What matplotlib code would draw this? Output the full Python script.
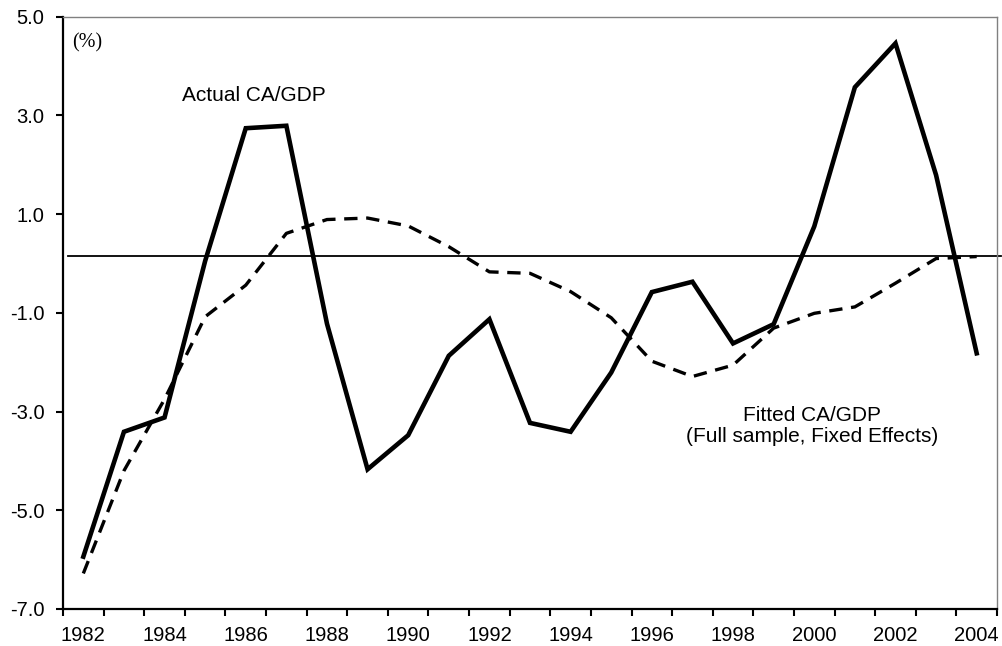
import matplotlib.pyplot as plt
from matplotlib.ticker import FixedLocator, NullFormatter
import numpy as np

plt.rcParams['font.family'] = ['Liberation Sans', 'DejaVu Sans']

# Current account balance, % of GDP
years = np.arange(1982, 2005)
actual = [-5.94, -3.41, -3.12, 0.05, 2.74, 2.79, -1.22, -4.17, -3.48, -1.87,
          -1.13, -3.23, -3.41, -2.21, -0.58, -0.37, -1.62, -1.23, 0.75, 3.57,
          4.46, 1.79, -1.82]
fitted = [-6.28, -4.2, -2.75, -1.08, -0.44, 0.61, 0.89, 0.92, 0.76, 0.34,
          -0.17, -0.2, -0.57, -1.1, -1.98, -2.29, -2.06, -1.31, -1.01, -0.88,
          -0.4, 0.1, 0.14]
reference_level = 0.16

y_ticks = [-7.0, -5.0, -3.0, -1.0, 1.0, 3.0, 5.0]
label_years = list(range(1982, 2005, 2))

fig = plt.figure(figsize=(10.02, 6.46), dpi=100)
ax = fig.add_axes([0.0629, 0.0573, 0.9321, 0.9169])

ax.plot(years, actual, color='black', lw=3.3, solid_joinstyle='miter', zorder=3)
ax.plot(years, fitted, color='black', lw=2.4, dashes=(4.0, 2.6), zorder=2)
ax.axhline(reference_level, xmin=0.005, xmax=1.004, color='black', lw=1.3,
           clip_on=False, zorder=1)

ax.set_xlim(1981.5, 2004.5)
ax.set_ylim(-7, 5)

# category boundaries carry the tick marks, labels sit at category centres
ax.xaxis.set_major_locator(FixedLocator(np.arange(1981.5, 2005, 1.0)))
ax.xaxis.set_major_formatter(NullFormatter())
ax.xaxis.set_minor_locator(FixedLocator(label_years))
ax.set_xticklabels([str(y) for y in label_years], minor=True)
ax.tick_params(axis='x', which='major', direction='out', length=5, width=1.5)
ax.tick_params(axis='x', which='minor', length=0, pad=12.5, labelsize=14.5)

ax.set_yticks(y_ticks)
ax.set_yticklabels([f'{v:.1f}' for v in y_ticks])
ax.tick_params(axis='y', direction='out', length=5, width=1.5, pad=8.5,
               labelsize=14.5)

for side in ('left', 'bottom'):
    ax.spines[side].set_linewidth(1.6)
    ax.spines[side].set_color('black')
for side in ('top', 'right'):
    ax.spines[side].set_linewidth(1.0)
    ax.spines[side].set_color('#808080')

ax.text(1981.72, 4.47, '(%)', family=['Liberation Serif', 'DejaVu Serif'],
        fontsize=14.5, ha='left', va='center')
ax.text(1986.2, 3.41, 'Actual CA/GDP', fontsize=15, ha='center', va='center')
ax.text(1999.95, -3.3, 'Fitted CA/GDP\n(Full sample, Fixed Effects)',
        fontsize=15, ha='center', va='center', multialignment='center',
        linespacing=1.15)

fig.savefig('out.png', dpi=100)
